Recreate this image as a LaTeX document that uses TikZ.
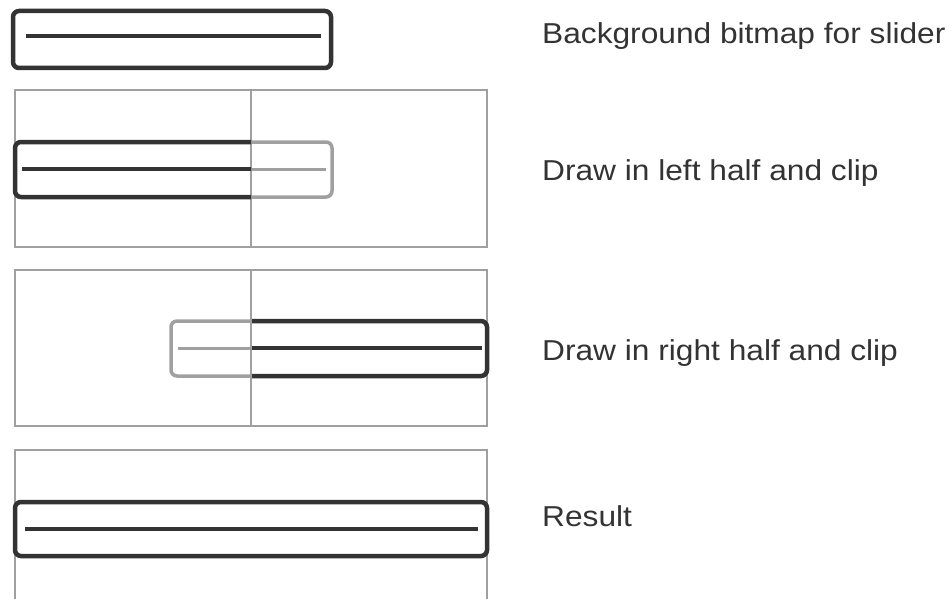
\documentclass[tikz,border=0pt]{standalone}
\usepackage{fontspec}
\setmainfont{Liberation Sans}[FakeStretch=1.1]
\definecolor{darkc}{HTML}{333333}
\definecolor{greyc}{HTML}{A0A0A0}
\begin{document}
\begin{tikzpicture}[x=1pt,y=-1pt,
  frame/.style={draw=greyc,line width=2pt},
  darkbox/.style={draw=darkc,line width=4.5pt,rounded corners=6pt},
  darkline/.style={draw=darkc,line width=3.5pt},
  greybox/.style={draw=greyc,line width=3.5pt,rounded corners=6pt},
  greyline/.style={draw=greyc,line width=3pt},
  label/.style={anchor=base west,inner sep=0pt,text=darkc,font=\fontsize{28.8}{34}\selectfont}]
\useasboundingbox (0,0) rectangle (952,599);
% top slider
\draw[darkbox] (13,11) rectangle (331,68);
\draw[darkline] (26,36) -- (321,36);
\node[label] (t1) at (542,44) {Background bitmap for slider};
% panel 2
\draw[frame] (15,90) rectangle (487,247);
\draw[frame] (251,90) -- (251,247);
\draw[greybox] (15,142) rectangle (332,197);
\draw[greyline] (22,169) -- (326,169);
\begin{scope}
\clip (0,100) rectangle (251,240);
\draw[darkbox] (15,142) rectangle (332,197);
\draw[darkline] (22,169) -- (326,169);
\end{scope}
\node[label] (t2) at (542,180) {Draw in left half and clip};
% panel 3
\draw[frame] (15,270) rectangle (487,426);
\draw[frame] (251,270) -- (251,426);
\draw[greybox] (171,321) rectangle (487,376);
\draw[greyline] (178,348) -- (482,348);
\begin{scope}
\clip (252,280) rectangle (500,420);
\draw[darkbox] (171,321) rectangle (487,376);
\draw[darkline] (178,348) -- (482,348);
\end{scope}
\node[label] (t3) at (542,360) {Draw in right half and clip};
% panel 4
\draw[frame] (15,600) -- (15,450) -- (487,450) -- (487,600);
\draw[darkbox] (15,502) rectangle (487,556);
\draw[darkline] (25,529) -- (478,529);
\node[label] (t4) at (542,526) {Result};
\end{tikzpicture}
\end{document}
